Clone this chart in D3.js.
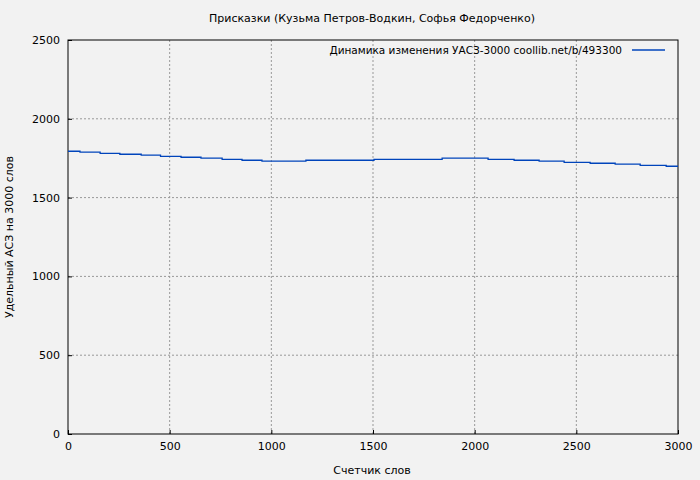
<!DOCTYPE html>
<html><head><meta charset="utf-8">
<script src="https://cdn.jsdelivr.net/npm/d3@7"></script>
<style>body{margin:0;background:#f2f2f2}text{font-family:"DejaVu Sans",sans-serif;font-size:11px;fill:#000}</style>
</head><body><svg id="c" width="700" height="480"></svg>
<script>
// step starts (words) and level values
var stepX = [0, 59, 158, 255, 360, 455, 556, 654, 758, 856, 954, 1170, 1505, 1840, 2066, 2194, 2317, 2440, 2568, 2691, 2814, 2942, 3000];
var stepY = [1794, 1788, 1781, 1775, 1769, 1762, 1756, 1750, 1743, 1737, 1731, 1737, 1743, 1750, 1743, 1737, 1731, 1724, 1718, 1712, 1705, 1699, 1699];
var xTicks = [0, 500, 1000, 1500, 2000, 2500, 3000];
var yTicks = [0, 500, 1000, 1500, 2000, 2500];

var svg = d3.select('#c');
svg.append('rect').attr('width', 700).attr('height', 480).attr('fill', '#f2f2f2');
var x = d3.scaleLinear().domain([0, 3000]).range([68, 678]);
var y = d3.scaleLinear().domain([0, 2500]).range([434, 40]);

// grid
svg.selectAll('.gx').data(xTicks.slice(1, -1)).enter().append('line')
    .attr('x1', d => x(d)).attr('x2', d => x(d)).attr('y1', 40).attr('y2', 434)
    .attr('stroke', '#999').attr('stroke-dasharray', '2,2');
svg.selectAll('.gy').data(yTicks.slice(1, -1)).enter().append('line')
    .attr('y1', d => y(d)).attr('y2', d => y(d)).attr('x1', 68).attr('x2', 678)
    .attr('stroke', '#999').attr('stroke-dasharray', '2,2');

var xa = svg.append('g').attr('transform', 'translate(0,434)')
    .call(d3.axisBottom(x).tickValues(xTicks).tickFormat(d3.format('d')).tickSize(-4).tickPadding(8));
var ya = svg.append('g').attr('transform', 'translate(68,0)')
    .call(d3.axisLeft(y).tickValues(yTicks).tickFormat(d3.format('d')).tickSize(-4).tickPadding(8));
[xa, ya].forEach(function(a){ a.select('.domain').remove(); a.selectAll('line').attr('stroke', '#000'); a.selectAll('text').style('font-size', '11px'); });
svg.append('rect').attr('x', 68).attr('y', 40).attr('width', 610).attr('height', 394)
    .attr('fill', 'none').attr('stroke', '#000');

var pts = stepX.map((d, i) => [d, stepY[i]]);
svg.append('path').datum(pts)
    .attr('d', d3.line().x(d => x(d[0])).y(d => y(d[1])).curve(d3.curveStepAfter))
    .attr('fill', 'none').attr('stroke', '#0044bb').attr('stroke-width', 1.3);

// legend
svg.append('text').attr('x', 622).attr('y', 54).attr('text-anchor', 'end').style('font-size', '10.5px')
    .text('Динамика изменения УАСЗ-3000  coollib.net/b/493300');
svg.append('line').attr('x1', 632).attr('x2', 665).attr('y1', 50).attr('y2', 50)
    .attr('stroke', '#0044bb').attr('stroke-width', 1.3);

svg.append('text').attr('x', 372).attr('y', 22).attr('text-anchor', 'middle')
    .text('Присказки (Кузьма Петров-Водкин, Софья Федорченко)');
svg.append('text').attr('x', 372).attr('y', 474).attr('text-anchor', 'middle').text('Счетчик слов');
svg.append('text').attr('transform', 'translate(13,237) rotate(-90)').attr('text-anchor', 'middle')
    .text('Удельный АСЗ на 3000 слов');
</script></body></html>
